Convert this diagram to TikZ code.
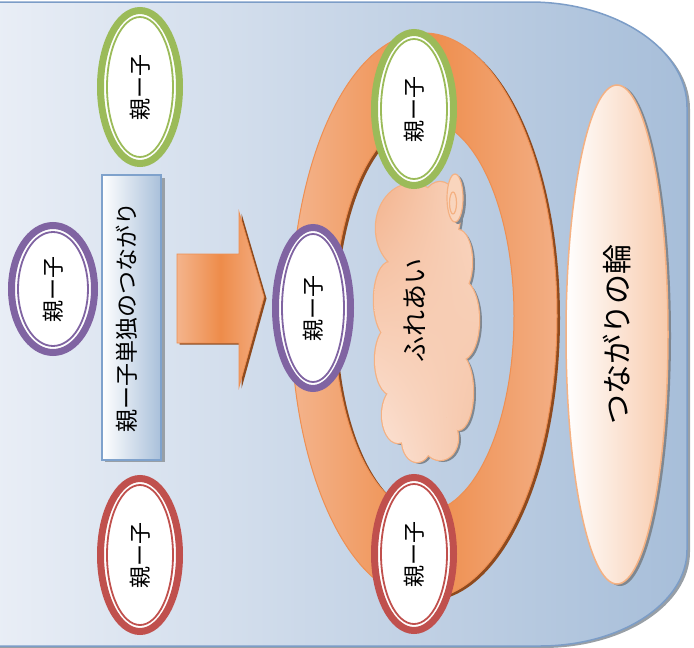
\documentclass[tikz,border=0pt]{standalone}
\usepackage{fontspec}
\newfontfamily\jp{Noto Sans CJK JP}
\usetikzlibrary{shapes.geometric,shadings}
\definecolor{bgL}{HTML}{E9EEF6}
\definecolor{bgR}{HTML}{A7BED9}
\definecolor{bgEdge}{HTML}{7C9DC7}
\definecolor{pcGreen}{HTML}{9BBB59}
\definecolor{pcPurple}{HTML}{8064A2}
\definecolor{pcRed}{HTML}{C0504D}
\definecolor{orL}{HTML}{F4B48C}
\definecolor{orM}{HTML}{EE8C4A}
\definecolor{orR}{HTML}{F3AE84}
\definecolor{orEdge}{HTML}{EE8F52}
\definecolor{orShadow}{HTML}{8E4A1E}
\definecolor{peach}{HTML}{F8CBAD}
\definecolor{peachEdge}{HTML}{F4B183}
\definecolor{boxR}{HTML}{A9C0DA}
\definecolor{boxEdge}{HTML}{7FA2CC}
\definecolor{shadowGray}{HTML}{7F8790}
\definecolor{clA}{HTML}{F3B38D}
\definecolor{clB}{HTML}{F9D8C4}
\definecolor{clC}{HTML}{FCE6DA}
\definecolor{clD}{HTML}{F5C3A5}
\begin{document}
\begin{tikzpicture}[x=1pt,y=-1pt,
  pc/.style={ellipse, fill=white, draw=#1, line width=7pt, inner sep=0pt,
    font={\jp\fontsize{22pt}{22pt}\selectfont}},
  pcin/.style={draw=#1, line width=1.8pt},
  bgshape/.style={insert path={(-5,2) -- (530,2) .. controls (616,2) and (687,49) .. (687,107)
     -- (687,550) .. controls (687,603) and (621,646) .. (540,646) -- (-5,646) -- cycle}},
  arrowshape/.style={insert path={(177,254) -- (239,254) -- (239,212) -- (264,297) -- (239,387) -- (239,343) -- (177,343) -- cycle}},
  ringshape/.style={insert path={(424,316) ellipse [x radius=133, y radius=283] (424,316) ellipse [x radius=90, y radius=196]}},
  cloudshape/.style={insert path={
    (412,228) ellipse [x radius=36, y radius=44]
    (440,215) ellipse [x radius=20, y radius=33]
    (390,300) ellipse [x radius=16, y radius=38]
    (392,360) ellipse [x radius=17, y radius=35]
    (398,415) ellipse [x radius=16, y radius=28]
    (417,440) ellipse [x radius=15, y radius=22]
    (440,438) ellipse [x radius=18, y radius=22]
    (458,262) ellipse [x radius=14, y radius=32]
    (461,320) ellipse [x radius=18, y radius=40]
    (458,392) ellipse [x radius=15, y radius=38]
    (425,320) ellipse [x radius=40, y radius=115]}}
  ]
\useasboundingbox (0,0) rectangle (694,648);
% background panel
\begin{scope}[shift={(3,2)}]
  \fill[shadowGray!80, bgshape];
\end{scope}
\path[left color=bgL, right color=bgR, draw=bgEdge, line width=1.5pt, bgshape];

% text box
\fill[shadowGray!80] (105,178) rectangle (164.5,462);
\node[rectangle, minimum width=59pt, minimum height=285pt, left color=white, right color=boxR,
  draw=boxEdge, line width=1.2pt, inner sep=0pt, font={\jp\fontsize{23pt}{23pt}\selectfont}]
  (tb) at (131.5,317.5) {\rotatebox{90}{\raisebox{5pt}[\height][\depth]{親ー子単独のつながり}}};

% arrow
\begin{scope}[shift={(2.5,1.5)}]
  \fill[orShadow, arrowshape];
\end{scope}
\path[left color=orL, right color=orR, middle color=orM, draw=orEdge, line width=0.8pt, arrowshape];

% left ellipses
\node[pc=pcGreen, minimum width=79pt, minimum height=153pt] (g1) at (140,87) {\rotatebox{90}{親ー子}};
\draw[pcin=pcGreen] (g1.center) ellipse [x radius=33pt, y radius=70pt];
\node[pc=pcPurple, minimum width=83pt, minimum height=127pt] (p1) at (53,289) {\rotatebox{90}{親ー子}};
\draw[pcin=pcPurple] (p1.center) ellipse [x radius=35pt, y radius=57pt];
\node[pc=pcRed, minimum width=79pt, minimum height=153pt] (r1) at (140,555) {\rotatebox{90}{親ー子}};
\draw[pcin=pcRed] (r1.center) ellipse [x radius=33pt, y radius=70pt];

% ring
\begin{scope}[shift={(3,2)}]
  \fill[orShadow, even odd rule, ringshape];
\end{scope}
\path[even odd rule, left color=orL, right color=orR, middle color=orM, draw=orEdge, line width=1pt, ringshape];

% cloud
\begin{scope}[shift={(3,2)}]
  \fill[shadowGray, cloudshape];
\end{scope}
\draw[peachEdge, line width=2.5pt, cloudshape];
\path[upper left=clA, upper right=clB, lower left=clC, lower right=clD, cloudshape];
\fill[shadowGray] (458,200) ellipse [x radius=8, y radius=24];
\filldraw[fill=peach!80!white, draw=peachEdge, line width=1.2pt] (455,198) ellipse [x radius=8, y radius=24];
\draw[peachEdge, line width=1.2pt] (453,203) ellipse [x radius=3.5, y radius=11];
\node[font={\jp\fontsize{26pt}{26pt}\selectfont}] (fa) at (415,310) {\rotatebox{90}{ふれあい}};

% ring ellipses
\node[pc=pcGreen, minimum width=79pt, minimum height=153pt] (g2) at (414,109) {\rotatebox{90}{親ー子}};
\draw[pcin=pcGreen] (g2.center) ellipse [x radius=33pt, y radius=70pt];
\node[pc=pcPurple, minimum width=75pt, minimum height=161pt] (p2) at (313,308) {\rotatebox{90}{親ー子}};
\draw[pcin=pcPurple] (p2.center) ellipse [x radius=31pt, y radius=74pt];
\node[pc=pcRed, minimum width=79pt, minimum height=153pt] (r2) at (414,554) {\rotatebox{90}{親ー子}};
\draw[pcin=pcRed] (r2.center) ellipse [x radius=33pt, y radius=70pt];

% ring label ellipse
\fill[shadowGray] (620,336) ellipse [x radius=51, y radius=250];
\node[ellipse, minimum width=102pt, minimum height=499pt, left color=white, right color=peach,
  draw=peachEdge, line width=1.5pt, inner sep=0pt, font={\jp\fontsize{30pt}{30pt}\selectfont}]
  (wa) at (617,334.5) {\rotatebox{90}{つながりの輪}};
\end{tikzpicture}
\end{document}
